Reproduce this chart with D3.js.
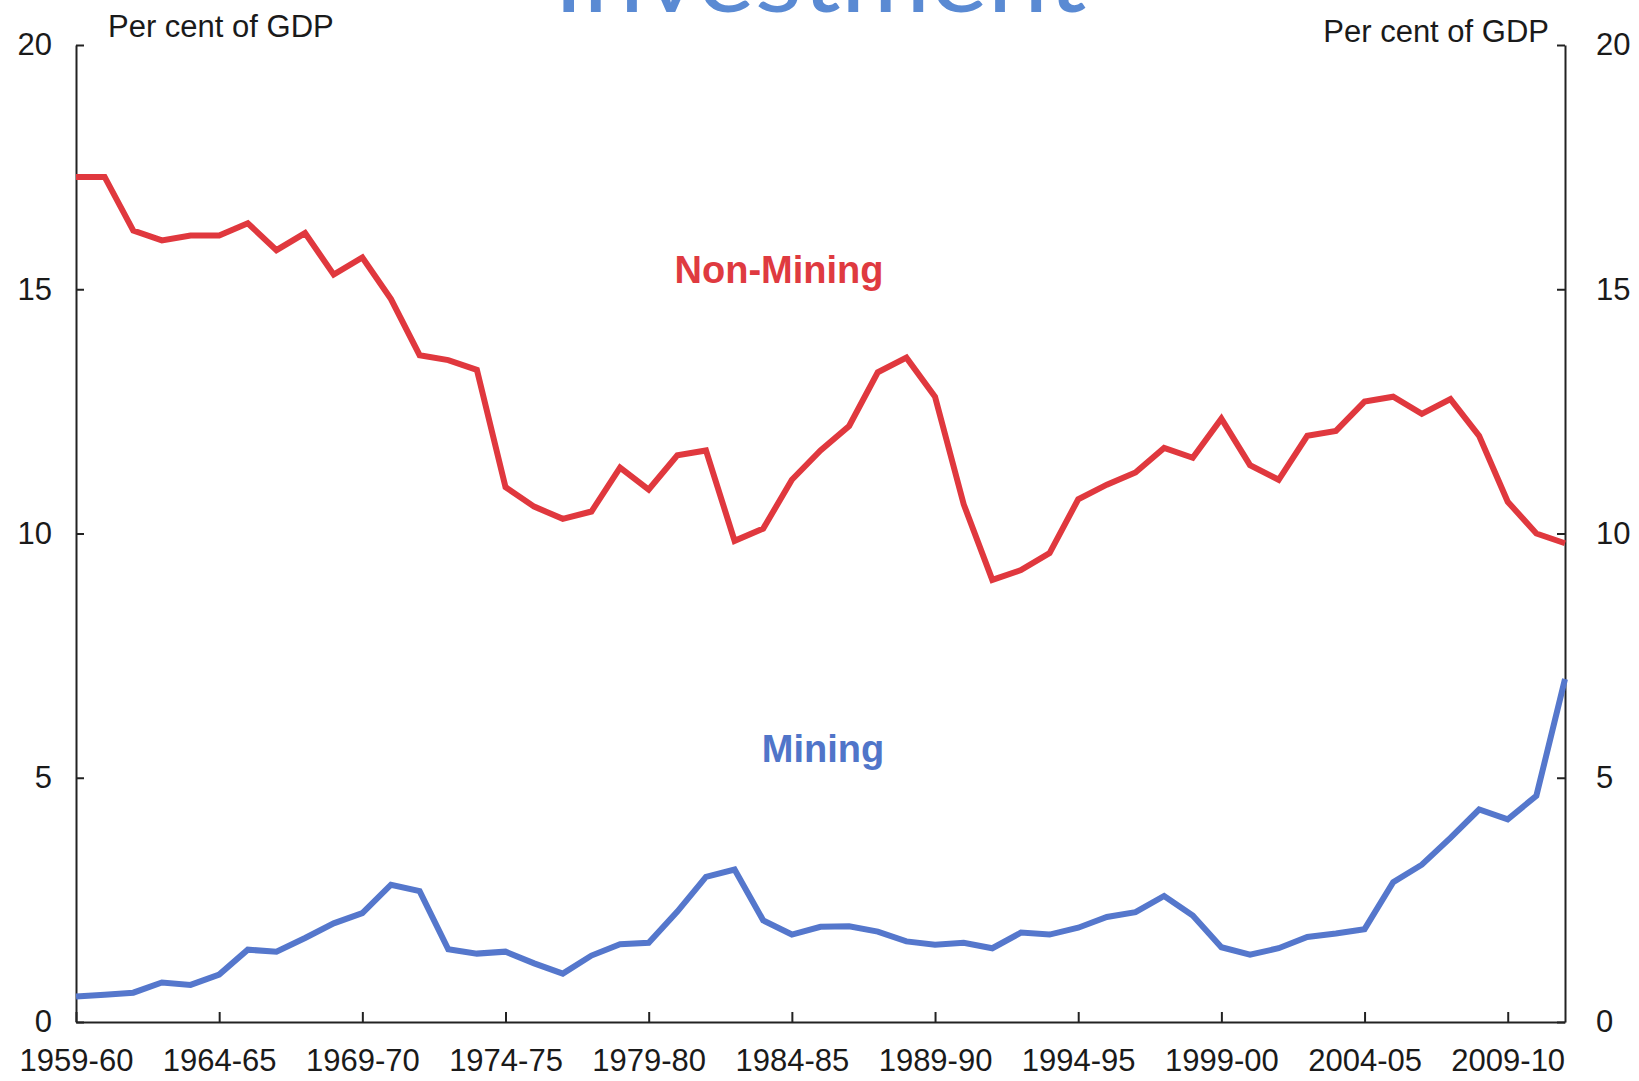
<!DOCTYPE html>
<html>
<head>
<meta charset="utf-8">
<script src="https://cdn.jsdelivr.net/npm/d3@7"></script>
<style>
  body { margin: 0; background: #fff; }
  svg { display: block; }
  .axis text { font-family: "Liberation Sans", Arial, sans-serif; font-size: 31px; fill: #1a1a1a; }
  .axis path, .axis line { stroke: #222; stroke-width: 2; }
</style>
</head>
<body>
<script>
// financial years on the x axis
var years = ["1959-60","1960-61","1961-62","1962-63","1963-64","1964-65","1965-66","1966-67","1967-68","1968-69",
  "1969-70","1970-71","1971-72","1972-73","1973-74","1974-75","1975-76","1976-77","1977-78","1978-79",
  "1979-80","1980-81","1981-82","1982-83","1983-84","1984-85","1985-86","1986-87","1987-88","1988-89",
  "1989-90","1990-91","1991-92","1992-93","1993-94","1994-95","1995-96","1996-97","1997-98","1998-99",
  "1999-00","2000-01","2001-02","2002-03","2003-04","2004-05","2005-06","2006-07","2007-08","2008-09",
  "2009-10","2010-11","2011-12"];

// non-mining investment, per cent of GDP
var nonMining = [17.3, 17.3, 16.2, 16.0, 16.1, 16.1, 16.35, 15.8, 16.15, 15.3,
  15.65, 14.8, 13.65, 13.55, 13.35, 10.95, 10.55, 10.3, 10.45, 11.35,
  10.9, 11.6, 11.7, 9.85, 10.1, 11.1, 11.7, 12.2, 13.3, 13.6,
  12.8, 10.6, 9.05, 9.25, 9.6, 10.7, 11.0, 11.25, 11.75, 11.55,
  12.35, 11.4, 11.1, 12.0, 12.1, 12.7, 12.8, 12.45, 12.75, 12.0,
  10.65, 10.0, 9.8];

// mining investment, per cent of GDP
var mining = [0.52, 0.56, 0.6, 0.81, 0.76, 0.97, 1.48, 1.44, 1.72, 2.02,
  2.23, 2.81, 2.68, 1.49, 1.4, 1.44, 1.2, 0.99, 1.36, 1.59,
  1.62, 2.26, 2.97, 3.12, 2.08, 1.79, 1.95, 1.96, 1.85, 1.65,
  1.58, 1.62, 1.51, 1.83, 1.79, 1.93, 2.15, 2.25, 2.58, 2.18,
  1.53, 1.38, 1.51, 1.74, 1.81, 1.9, 2.86, 3.22, 3.77, 4.35,
  4.15, 4.63, 7.02];

var yTicks = [0, 5, 10, 15, 20];
var xLabelYears = ["1959-60","1964-65","1969-70","1974-75","1979-80","1984-85","1989-90","1994-95","1999-00","2004-05","2009-10"];

var width = 1639, height = 1081;
var plotLeft = 76, plotRight = 1565, plotTop = 45, plotBottom = 1022;

var svg = d3.select("body").append("svg")
    .attr("width", width)
    .attr("height", height);

var x = d3.scalePoint()
    .domain(years)
    .range([plotLeft, plotRight]);

var y = d3.scaleLinear()
    .domain([0, 20])
    .range([plotBottom, plotTop]);

// title, mostly cut off at top of the slide
svg.append("text")
    .attr("x", 820)
    .attr("y", 12)
    .attr("text-anchor", "middle")
    .attr("textLength", 533)
    .attr("lengthAdjust", "spacingAndGlyphs")
    .style("font-family", "Lato, 'Open Sans', sans-serif")
    .style("font-size", "100px")
    .style("fill", "#5a8ad3")
    .text("Investment");

// x axis, ticks pointing up
var xAxis = d3.axisBottom(x)
    .tickValues(xLabelYears)
    .tickSizeInner(-10)
    .tickSizeOuter(0)
    .tickPadding(27);

svg.append("g")
    .attr("class", "x axis")
    .attr("transform", "translate(0," + plotBottom + ")")
    .call(xAxis);

// left and right axes, ticks pointing inward
var yAxisLeft = d3.axisLeft(y)
    .tickValues(yTicks)
    .tickSizeInner(-8)
    .tickSizeOuter(0)
    .tickPadding(24);

svg.append("g")
    .attr("class", "y axis")
    .attr("transform", "translate(" + plotLeft + ",0)")
    .call(yAxisLeft);

var yAxisRight = d3.axisRight(y)
    .tickValues(yTicks)
    .tickSizeInner(-8)
    .tickSizeOuter(0)
    .tickPadding(31);

svg.append("g")
    .attr("class", "y axis")
    .attr("transform", "translate(" + plotRight + ",0)")
    .call(yAxisRight);

// unit labels
svg.append("text")
    .attr("x", 108)
    .attr("y", 37)
    .style("font-family", "'Liberation Sans', Arial, sans-serif")
    .style("font-size", "31px")
    .style("fill", "#1a1a1a")
    .text("Per cent of GDP");

svg.append("text")
    .attr("x", 1549)
    .attr("y", 42)
    .attr("text-anchor", "end")
    .style("font-family", "'Liberation Sans', Arial, sans-serif")
    .style("font-size", "31px")
    .style("fill", "#1a1a1a")
    .text("Per cent of GDP");

// the two lines
var line = d3.line()
    .x(function(d, i) { return x(years[i]); })
    .y(function(d) { return y(d); });

svg.append("path")
    .datum(nonMining)
    .attr("fill", "none")
    .attr("stroke", "#e0383e")
    .attr("stroke-width", 6)
    .attr("stroke-linejoin", "miter")
    .attr("d", line);

svg.append("path")
    .datum(mining)
    .attr("fill", "none")
    .attr("stroke", "#5577cc")
    .attr("stroke-width", 6)
    .attr("stroke-linejoin", "miter")
    .attr("d", line);

// series labels
svg.append("text")
    .attr("x", 779)
    .attr("y", 283)
    .attr("text-anchor", "middle")
    .style("font-family", "'Liberation Sans', Arial, sans-serif")
    .style("font-weight", "bold")
    .style("font-size", "38px")
    .style("fill", "#df3a40")
    .text("Non-Mining");

svg.append("text")
    .attr("x", 823)
    .attr("y", 762)
    .attr("text-anchor", "middle")
    .style("font-family", "'Liberation Sans', Arial, sans-serif")
    .style("font-weight", "bold")
    .style("font-size", "38px")
    .style("fill", "#5075c9")
    .text("Mining");
</script>
</body>
</html>
